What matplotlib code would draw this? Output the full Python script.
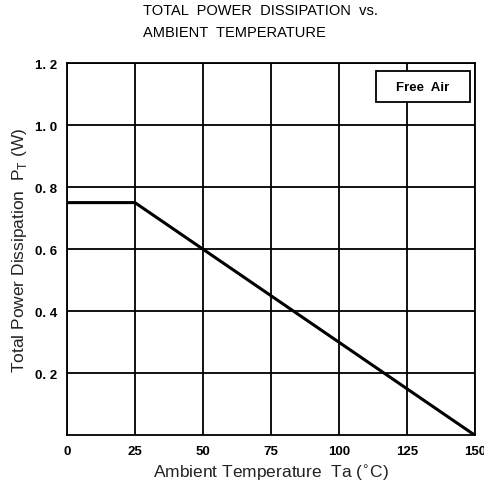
import matplotlib
matplotlib.use('Agg')
import matplotlib.pyplot as plt
from matplotlib.patches import Rectangle

# Derating curve data
temp_c = [0, 25, 150]
power_w = [0.75, 0.75, 0.0]

x_ticks = [0, 25, 50, 75, 100, 125, 150]
y_ticks = [0.2, 0.4, 0.6, 0.8, 1.0, 1.2]

fig = plt.figure(figsize=(4.85, 4.89), dpi=100)
ax = fig.add_axes([0.138, 0.108, 0.841, 0.761])

ax.plot(temp_c, power_w, color='black', linewidth=2.2, solid_capstyle='butt')

ax.set_xlim(0, 150)
ax.set_ylim(0, 1.2)
ax.set_xticks(x_ticks)
ax.set_yticks(y_ticks)
ax.set_xticklabels([str(t) for t in x_ticks], fontweight='bold', fontsize=9.5,
                   family='Liberation Sans')
ax.set_yticklabels([f"{t:.1f}".replace('.', '. ') for t in y_ticks], fontweight='bold', fontsize=9.5,
                   family='Liberation Sans')
ax.tick_params(length=0, pad=7)
ax.grid(True, color='black', linewidth=1.3)
for s in ax.spines.values():
    s.set_linewidth(1.3)

ax.set_xlabel('Ambient Temperature  Ta ($^{\\circ}$C)', fontsize=12.5, color='#222222',
              family='Liberation Sans')
ax.set_ylabel('Total Power Dissipation  P$_\\mathregular{T}$ (W)', fontsize=12.5, color='#222222',
              family='Liberation Sans')

# "Free Air" legend box
ax.add_patch(Rectangle((0.757, 0.895), 0.231, 0.083, transform=ax.transAxes,
                       facecolor='white', edgecolor='black', linewidth=1.3, zorder=3))
ax.text(0.872, 0.937, 'Free  Air', transform=ax.transAxes, ha='center', va='center',
        fontsize=9.5, fontweight='bold', family='Liberation Sans', zorder=4)

fig.text(0.295, 0.955, 'TOTAL  POWER  DISSIPATION  vs.\nAMBIENT  TEMPERATURE', ha='left', va='center',
         fontsize=10.5, family='Liberation Sans', linespacing=1.8)

fig.savefig('out.png', dpi=100)
